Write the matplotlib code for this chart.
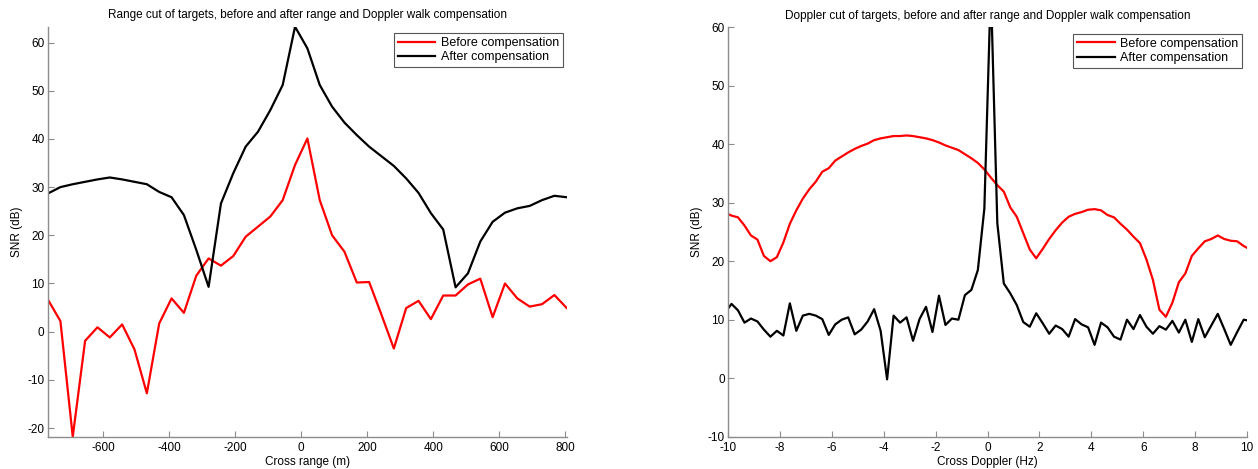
import numpy as np
import matplotlib
matplotlib.use("Agg")
import matplotlib.pyplot as plt

plt.rcParams['font.family'] = ['Liberation Sans', 'DejaVu Sans']
plt.rcParams['axes.unicode_minus'] = False

# range cut, 43 samples from -767 m to 804 m
cross_range = np.linspace(-767, 804, 43)
range_before = [6.6, 2.2, -21.8, -1.9, 0.9, -1.2, 1.5, -3.7, -12.8, 1.7,
                6.9, 3.9, 11.6, 15.2, 13.7, 15.7, 19.7, 21.8, 23.9, 27.3,
                34.6, 40.1, 27.3, 20.0, 16.6, 10.2, 10.3, 3.5, -3.5, 4.9,
                6.4, 2.6, 7.5, 7.5, 9.8, 11.0, 3.0, 10.0, 6.9, 5.2,
                5.7, 7.6, 4.9]
range_after = [28.7, 30.0, 30.6, 31.1, 31.6, 32.0, 31.6, 31.1, 30.6, 29.0,
               27.9, 24.2, 17.0, 9.3, 26.6, 32.9, 38.4, 41.5, 46.0, 51.2,
               63.3, 58.8, 51.2, 46.7, 43.4, 40.8, 38.4, 36.4, 34.4, 31.8,
               28.8, 24.6, 21.2, 9.2, 12.1, 18.7, 22.8, 24.7, 25.6, 26.1,
               27.3, 28.2, 27.9]

# doppler cut, 0.25 Hz bins (one extra bin past each end of the axis)
cross_doppler = np.arange(-10.125, 10.126, 0.25)
doppler_before = [28.3, 27.8, 27.5, 26.1, 24.4, 23.7, 20.9, 20.0, 20.7, 23.2,
                  26.4, 28.7, 30.7, 32.3, 33.6, 35.3, 35.9, 37.2, 37.9, 38.6,
                  39.2, 39.7, 40.1, 40.7, 41.0, 41.2, 41.4, 41.4, 41.5, 41.4,
                  41.2, 41.0, 40.7, 40.3, 39.8, 39.4, 39.0, 38.3, 37.6, 36.8,
                  35.7, 34.3, 33.0, 31.9, 29.2, 27.6, 24.8, 22.0, 20.5, 22.1,
                  23.8, 25.3, 26.6, 27.6, 28.1, 28.4, 28.8, 28.9, 28.7, 27.9,
                  27.5, 26.4, 25.4, 24.2, 23.1, 20.3, 16.8, 11.7, 10.5, 12.9,
                  16.4, 17.9, 20.9, 22.2, 23.4, 23.8, 24.4, 23.8, 23.5, 23.4,
                  22.6, 22.0]
doppler_after = [11.2, 12.7, 11.6, 9.5, 10.2, 9.7, 8.3, 7.1, 8.1, 7.3,
                 12.8, 8.1, 10.7, 11.0, 10.7, 10.1, 7.4, 9.2, 10.0, 10.4,
                 7.5, 8.3, 9.7, 11.8, 8.1, -0.2, 10.7, 9.5, 10.4, 6.4,
                 10.1, 12.2, 7.9, 14.1, 9.1, 10.2, 10.0, 14.2, 15.1, 18.5,
                 29.0, 67.0, 26.5, 16.2, 14.5, 12.5, 9.6, 8.8, 11.1, 9.4,
                 7.6, 9.0, 8.4, 7.1, 10.1, 9.2, 8.7, 5.7, 9.5, 8.7,
                 7.1, 6.6, 10.0, 8.4, 10.8, 8.8, 7.6, 8.9, 8.3, 9.8,
                 7.8, 10.0, 6.2, 10.1, 7.0, 9.0, 11.0, 8.4, 5.7, 7.9,
                 10.0, 9.8]

labels = ['Before compensation', 'After compensation']
FS = 8.5


def style_axes(ax):
    for side in ['top', 'right']:
        ax.spines[side].set_visible(False)
    for side in ['left', 'bottom']:
        ax.spines[side].set_color('#8c8c8c')
        ax.spines[side].set_linewidth(1.0)
    ax.tick_params(direction='in', length=4, width=0.8, color='#8c8c8c',
                   labelsize=FS, labelcolor='black')
    ax.tick_params(axis='y', pad=2.5)
    ax.tick_params(axis='x', pad=3.5)


def add_legend(ax, anchor):
    leg = ax.legend(labels, loc='upper right', bbox_to_anchor=anchor,
                    borderaxespad=0, fontsize=9, fancybox=False,
                    framealpha=1, edgecolor='#555555', handlelength=3.0,
                    handletextpad=0.45, labelspacing=0.2, borderpad=0.3)
    leg.get_frame().set_linewidth(0.8)


def main():
    fig = plt.figure(figsize=(12.58, 4.69), dpi=100)

    ax1 = fig.add_axes([0.0382, 0.0689, 0.4123, 0.8742])
    ax1.plot(cross_range, range_before, color='#ff0000', lw=1.6)
    ax1.plot(cross_range, range_after, color='black', lw=1.6)
    ax1.set_xlim(cross_range[0], cross_range[-1])
    ax1.set_ylim(min(range_before), max(range_after))
    ax1.set_xticks(np.arange(-600, 801, 200))
    ax1.set_yticks(np.arange(-20, 61, 10))
    ax1.set_xlabel('Cross range (m)', fontsize=FS, labelpad=2)
    ax1.set_ylabel('SNR (dB)', fontsize=FS, labelpad=3)
    ax1.set_title('Range cut of targets, before and after range and Doppler walk compensation',
                  fontsize=FS, pad=6)
    style_axes(ax1)
    add_legend(ax1, (0.9923, 0.984))

    ax2 = fig.add_axes([0.5789, 0.0689, 0.4123, 0.873])
    ax2.plot(cross_doppler, doppler_before, color='#ff0000', lw=1.6)
    ax2.plot(cross_doppler, doppler_after, color='black', lw=1.6)
    ax2.set_xlim(-10, 10)
    ax2.set_ylim(-10, 60)
    ax2.set_xticks(np.arange(-10, 11, 2))
    ax2.set_yticks(np.arange(-10, 61, 10))
    ax2.set_xlabel('Cross Doppler (Hz)', fontsize=FS, labelpad=2)
    ax2.set_ylabel('SNR (dB)', fontsize=FS, labelpad=3)
    ax2.set_title('Doppler cut of targets, before and after range and Doppler walk compensation',
                  fontsize=FS, pad=6)
    style_axes(ax2)
    add_legend(ax2, (0.991, 0.984))

    fig.savefig('out.png', dpi=100)


if __name__ == "__main__":
    main()
